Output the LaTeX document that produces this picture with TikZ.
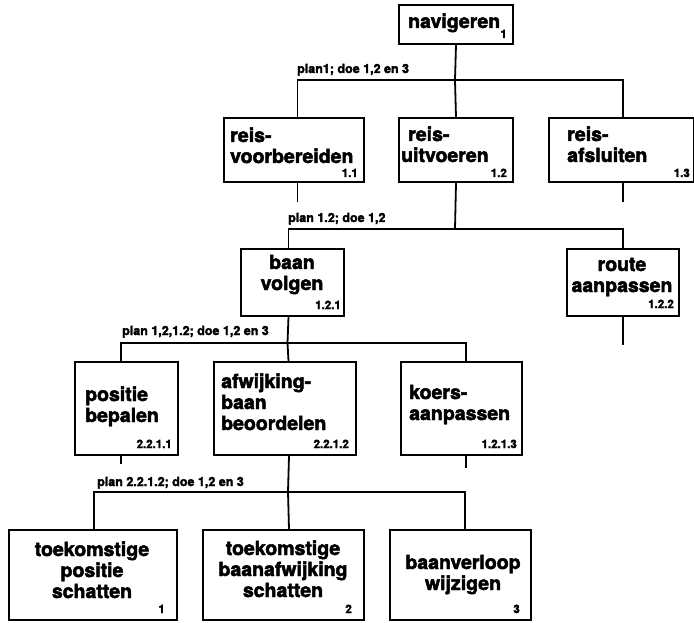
\documentclass[tikz,border=0pt]{standalone}
\usepackage{fontspec}
\setmainfont{TeX Gyre Heros}[BoldFeatures={FakeBold=2.5}]
\begin{document}
\begin{tikzpicture}[x=1pt,y=-1pt,
  box/.style={draw, line width=2pt, inner sep=0pt, anchor=north west},
  conn/.style={line width=1.8pt},
  txt/.style={inner sep=0pt, font=\bfseries\fontsize{19.5}{21}\selectfont},
  ltxt/.style={txt, anchor=base west, align=left},
  ctxt/.style={txt, anchor=base, align=center},
  num/.style={inner sep=0pt, anchor=base east, font=\bfseries\fontsize{11.5}{12}\selectfont},
  plan/.style={inner sep=0pt, anchor=base west, font=\bfseries\fontsize{12.5}{14}\selectfont}]
\fill[white] (0,0) rectangle (694,623);
\useasboundingbox (0,0) rectangle (694,623);

% ---------- boxes ----------
\node[box, minimum width=114, minimum height=39] (nav) at (398,4) {};
\node[box, minimum width=140, minimum height=64] (voor) at (223,117) {};
\node[box, minimum width=114, minimum height=64] (uitv) at (398,117) {};
\node[box, minimum width=145, minimum height=64] (afs) at (548,117) {};
\node[box, minimum width=103, minimum height=67] (baan) at (240,248) {};
\node[box, minimum width=112, minimum height=67] (route) at (566,248) {};
\node[box, minimum width=103, minimum height=93] (pos) at (74,361) {};
\node[box, minimum width=142, minimum height=93] (afw) at (213,361) {};
\node[box, minimum width=121, minimum height=93] (koers) at (400,361) {};
\node[box, minimum width=168, minimum height=90] (tp) at (8,529) {};
\node[box, minimum width=161, minimum height=90] (tb) at (202,529) {};
\node[box, minimum width=141, minimum height=90] (bv) at (389,529) {};

% ---------- texts (base anchor = baseline of the last line) ----------
\node[ltxt] (navT) at (408,28) {navigeren};
\node[num] (navN) at (507,38) {1};
\node[ltxt] (voorT) at (230,163) {reis-\\voorbereiden};
\node[num] (voorN) at (358,177) {1.1};
\node[ltxt] (uitvT) at (401,162) {\hspace{7pt}reis-\\uitvoeren};
\node[num] (uitvN) at (507,177) {1.2};
\node[ltxt] (afsT) at (567,162) {reis-\\afsluiten};
\node[num] (afsN) at (690,177) {1.3};
\node[ctxt] (baanT) at (292,290) {baan\\volgen};
\node[num] (baanN) at (341,309) {1.2.1};
\node[ctxt] (routeT) at (622,292) {route\\aanpassen};
\node[num] (routeN) at (674,308) {1.2.2};
\node[ltxt] (posT) at (85,422) {positie\\bepalen};
\node[num] (posN) at (172,448) {2.2.1.1};
\node[ltxt] (afwT) at (221,430) {afwijking-\\baan\\beoordelen};
\node[num] (afwN) at (349,448) {2.2.1.2};
\node[ltxt] (koersT) at (409,420) {koers-\\aanpassen};
\node[num] (koersN) at (517,448) {1.2.1.3};
\node[ctxt] (tpT) at (92,598) {toekomstige\\positie\\schatten};
\node[num] (tpN) at (165,613) {1};
\node[ctxt] (tbT) at (283,597) {toekomstige\\baanafwijking\\schatten};
\node[num] (tbN) at (352,613) {2};
\node[ctxt] (bvT) at (463,590) {baanverloop\\wijzigen};
\node[num] (bvN) at (520,613) {3};

% ---------- plan labels ----------
\node[plan] (p1) at (297,73) {plan1; doe 1,2 en 3};
\node[plan] (p2) at (288,222) {plan 1.2; doe 1,2};
\node[plan] (p3) at (122,335) {plan 1,2,1.2; doe 1,2 en 3};
\node[plan] (p4) at (97,486) {plan 2.2.1.2; doe 1,2 en 3};

% ---------- junctions ----------
\coordinate (j1) at (455,80);
\coordinate (j2) at (455,229);
\coordinate (j3) at (287.5,343);
\coordinate (j4) at (288,492);

% ---------- connectors ----------
\draw[conn] (nav.south) -- (j1);
\draw[conn] ([xshift=3.5]voor.north) |- (j1) -| ([xshift=1.5]afs.north);
\draw[conn] (j1) -- (uitv.north);
\draw[conn] ([xshift=3.5]voor.south) -- ++(0,19);
\draw[conn] ([xshift=1.5]afs.south) -- ++(0,19);

\draw[conn] (uitv.south) -- (j2);
\draw[conn] ([xshift=-4]baan.north) |- (j2) -| (route.north);
\draw[conn] (route.south) -- ++(0,28);

\draw[conn] ([xshift=-4]baan.south) -- (j3);
\draw[conn] ([xshift=-5.5]pos.north) |- (j3) -| ([xshift=4.5]koers.north);
\draw[conn] (j3) -- ([xshift=3.5]afw.north);
\draw[conn] ([xshift=-5.5]pos.south) -- ++(0,8);
\draw[conn] ([xshift=4.5]koers.south) -- ++(0,12);

\draw[conn] ([xshift=4]afw.south) -- (j4);
\draw[conn] ([xshift=1]tp.north) |- (j4) -| ([xshift=4.5]bv.north);
\draw[conn] (j4) -- ([xshift=5.5]tb.north);
\end{tikzpicture}
\end{document}
